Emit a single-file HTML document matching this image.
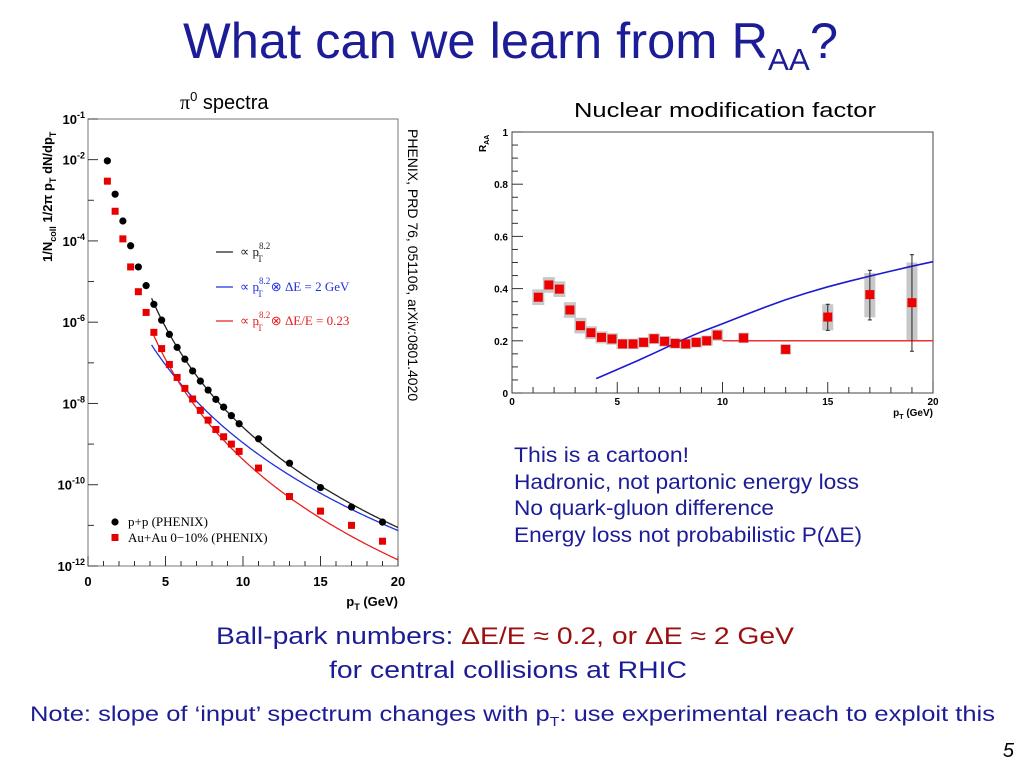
<!DOCTYPE html>
<html><head><meta charset="utf-8"><style>
html,body{margin:0;padding:0;background:#fff;}
svg{display:block;font-family:"Liberation Sans",sans-serif;}
.bt{font-weight:bold;fill:#000;}
.blue{fill:#1c1c96;}
</style></head><body>
<svg id="s" width="1024" height="768" viewBox="0 0 1024 768" xmlns="http://www.w3.org/2000/svg">
<text x="183" y="58" font-size="50" class="blue" textLength="655" lengthAdjust="spacingAndGlyphs">What can we learn from R<tspan font-size="31" dy="12">AA</tspan><tspan dy="-12">?</tspan></text>
<text x="180" y="109" font-size="20" fill="#000"><tspan font-family="Liberation Serif">π</tspan><tspan font-size="13" dy="-8">0</tspan><tspan dy="8"> spectra</tspan></text>
<text x="574" y="117" font-size="20" fill="#000" textLength="302" lengthAdjust="spacingAndGlyphs">Nuclear modification factor</text>
<g id="left"></g>
<g id="right"></g>
<text x="408" y="129" transform="rotate(90 408 129)" font-size="14" fill="#000">PHENIX, PRD 76, 051106, arXiv:0801.4020</text>
<g font-size="21" class="blue">
<text x="514" y="462" textLength="175" lengthAdjust="spacingAndGlyphs">This is a cartoon!</text>
<text x="514" y="489" textLength="345" lengthAdjust="spacingAndGlyphs">Hadronic, not partonic energy loss</text>
<text x="514" y="515" textLength="260" lengthAdjust="spacingAndGlyphs">No quark-gluon difference</text>
<text x="514" y="542" textLength="348" lengthAdjust="spacingAndGlyphs">Energy loss not probabilistic P(ΔE)</text>
</g>
<text x="216" y="644" font-size="24" class="blue" textLength="578" lengthAdjust="spacingAndGlyphs">Ball-park numbers: <tspan fill="#9a1010">ΔE/E ≈ 0.2, or ΔE ≈ 2 GeV</tspan></text>
<text x="329" y="678" font-size="24" class="blue" textLength="358" lengthAdjust="spacingAndGlyphs">for central collisions at RHIC</text>
<text x="30" y="721" font-size="21" class="blue" textLength="965" lengthAdjust="spacingAndGlyphs">Note: slope of ‘input’ spectrum changes with p<tspan font-size="13" dy="5">T</tspan><tspan dy="-5">: use experimental reach to exploit this</tspan></text>
<text x="1014" y="757" text-anchor="end" font-size="20" font-style="italic" fill="#000">5</text>
</svg>
<script>
// ---- Left chart data (log10 of yield) ----
const ppPt = [1.25,1.75,2.25,2.75,3.25,3.75,4.25,4.75,5.25,5.75,6.25,6.75,7.25,7.75,8.25,8.75,9.25,9.75,11,13,15,17,19];
const ppLog = [-2.03,-2.85,-3.51,-4.12,-4.64,-5.1,-5.56,-5.95,-6.3,-6.62,-6.91,-7.2,-7.45,-7.67,-7.9,-8.09,-8.3,-8.5,-8.87,-9.47,-10.07,-10.55,-10.92];
const auPt = [1.25,1.75,2.25,2.75,3.25,3.75,4.25,4.75,5.25,5.75,6.25,6.75,7.25,7.75,8.25,8.75,9.25,9.75,11,13,15,17,19];
const auLog = [-2.53,-3.27,-3.95,-4.64,-5.25,-5.76,-6.25,-6.65,-7.04,-7.36,-7.63,-7.89,-8.17,-8.41,-8.64,-8.82,-9.0,-9.18,-9.59,-10.29,-10.65,-11.0,-11.39];
const powerN = [8.2];
const normLog = [-0.385];
const blueShift = [2];
const blueNormLog = [-0.12];
const eLossFrac = [0.2];
const yDecades = [-1,-2,-4,-6,-8,-10,-12];
const xTicksL = [0,5,10,15,20];
// ---- Right chart data ----
const raaPt = [1.25,1.75,2.25,2.75,3.25,3.75,4.25,4.75,5.25,5.75,6.25,6.75,7.25,7.75,8.25,8.75,9.25,9.75,11,13,15,17,19];
const raaVal = [0.367,0.414,0.398,0.318,0.258,0.231,0.213,0.207,0.188,0.188,0.194,0.208,0.198,0.19,0.188,0.194,0.2,0.222,0.211,0.167,0.291,0.377,0.346];
const sysLo = [0.337,0.384,0.368,0.288,0.228,0.206,0.19,0.185,0.168,0.168,0.174,0.188,0.178,0.17,0.168,0.174,0.18,0.2,0.191,0.147,0.24,0.29,0.2];
const sysHi = [0.397,0.444,0.428,0.348,0.288,0.256,0.236,0.229,0.208,0.208,0.214,0.228,0.218,0.21,0.208,0.214,0.22,0.244,0.231,0.187,0.34,0.46,0.5];
const errPt = [15,17,19];
const errLo = [0.24,0.28,0.16];
const errHi = [0.34,0.47,0.53];
const bluePt = [4,5,6,7,8,9,10,11,12,13,14,15,16,17,18,19,20];
const blueRaa = [0.055,0.09,0.125,0.162,0.2,0.235,0.265,0.297,0.328,0.357,0.383,0.407,0.428,0.448,0.467,0.486,0.503];
const flatRaa = [0.2];
const yTicksR = [0,0.2,0.4,0.6,0.8,1];
const yTickLabR = ["0","0.2","0.4","0.6","0.8","1"];
const xTicksR = [0,5,10,15,20];

const NS="http://www.w3.org/2000/svg";
function mk(parent,tag,attrs,text){const e=document.createElementNS(NS,tag);for(const k in attrs)e.setAttribute(k,attrs[k]);if(text!==undefined)e.textContent=text;parent.appendChild(e);return e;}

// ---------- LEFT ----------
const L=document.getElementById('left');
const lx0=88,lx1=398,ly0=119,ly1=566;
const lx=v=>lx0+(lx1-lx0)*v/20;
const ly=lg=>ly0+(ly1-ly0)*(-1-lg)/11;
let fr=mk(L,'rect',{x:lx0,y:ly0,width:lx1-lx0,height:ly1-ly0,fill:'none',stroke:'#777','stroke-width':1});


for(let d=-12;d<=-1;d++){const y=ly(d);const len=(d%2===0||d===-1)?10:6;mk(L,'line',{x1:lx0,x2:lx0+len,y1:y,y2:y,stroke:'#333','stroke-width':1});}
for(let v=0;v<=20;v+=1){const len=v%5===0?10:5;mk(L,'line',{x1:lx(v),x2:lx(v),y1:ly1,y2:ly1-len,stroke:'#333','stroke-width':1});}
yDecades.forEach(d=>{const t=mk(L,'text',{x:lx0-3,y:ly(d)+5,'text-anchor':'end','font-size':13,class:'bt'});


mk(t,'tspan',{},'10');mk(t,'tspan',{'font-size':9,dy:-6},String(d));});
xTicksL.forEach(v=>{const t=mk(L,'text',{x:lx(v),y:ly1+20,'text-anchor':'middle','font-size':13,class:'bt'},String(v));

});
let xt=mk(L,'text',{x:398,y:606,'text-anchor':'end','font-size':13,class:'bt'});


mk(xt,'tspan',{},'p');mk(xt,'tspan',{'font-size':9,dy:4},'T');mk(xt,'tspan',{dy:-4},' (GeV)');
let yt=mk(L,'text',{x:52,y:262,transform:'rotate(-90 52 262)','font-size':13,class:'bt'});


mk(yt,'tspan',{},'1/N');mk(yt,'tspan',{'font-size':9,dy:4},'coll');mk(yt,'tspan',{dy:-4},' 1/2π p');mk(yt,'tspan',{'font-size':9,dy:4},'T');mk(yt,'tspan',{dy:-4},' dN/dp');mk(yt,'tspan',{'font-size':9,dy:4},'T');
function curve(fn,col,name){let d='';for(let p=4.1;p<=20.001;p+=0.1){d+=(d?'L':'M')+lx(p).toFixed(1)+' '+ly(fn(p)).toFixed(1);}
const e=mk(L,'path',{d:d,fill:'none',stroke:col,'stroke-width':1.3});

}
curve(p=>normLog[0]-powerN[0]*Math.log10(p),'#222','pp-power-law-curve');
curve(p=>blueNormLog[0]-powerN[0]*Math.log10(p+blueShift[0]),'#2030e0','delta-e-2gev-curve');
curve(p=>normLog[0]-powerN[0]*Math.log10(p/(1-eLossFrac[0])),'#e82020','delta-e-frac-curve');
ppPt.forEach((p,i)=>{const c=mk(L,'circle',{cx:lx(p),cy:ly(ppLog[i]),r:3.6,fill:'#000'});

});
auPt.forEach((p,i)=>{const c=mk(L,'rect',{x:lx(p)-3.5,y:ly(auLog[i])-3.5,width:7,height:7,fill:'#e80000'});

});
const lg=[[252,'#222',''],[287,'#2030e0','⊗ ΔE = 2 GeV'],[321,'#e82020','⊗ ΔE/E = 0.23']];
lg.forEach((r)=>{mk(L,'line',{x1:216,x2:233,y1:r[0],y2:r[0],stroke:r[1],'stroke-width':1.3});
const t=mk(L,'text',{x:240,y:r[0]+4,'font-size':13,'font-family':'Liberation Serif',fill:r[1]});


mk(t,'tspan',{},'∝ p');mk(t,'tspan',{'font-size':9,dy:-7},'8.2');mk(t,'tspan',{'font-size':9,dx:-13,dy:13},'T');mk(t,'tspan',{dx:8,dy:-6},r[2]);});
mk(L,'circle',{cx:115,cy:522,r:3.6,fill:'#000'});
let l1t=mk(L,'text',{x:128,y:526,'font-size':13,'font-family':'Liberation Serif',fill:'#000'},'p+p (PHENIX)');


mk(L,'rect',{x:111.5,y:534,width:7,height:7,fill:'#e80000'});
let l2t=mk(L,'text',{x:128,y:542,'font-size':13,'font-family':'Liberation Serif',fill:'#000'},'Au+Au 0−10% (PHENIX)');



// ---------- RIGHT ----------
const R=document.getElementById('right');
const rx0=512,rx1=933,ry0=132,ry1=393;
const rx=v=>rx0+(rx1-rx0)*v/20;
const ry=v=>ry1-(ry1-ry0)*v;
let rf=mk(R,'rect',{x:rx0,y:ry0,width:rx1-rx0,height:ry1-ry0,fill:'none',stroke:'#444','stroke-width':1});


for(let k=0;k<=20;k++){const v=k*0.05;const len=k%4===0?11:6;mk(R,'line',{x1:rx0,x2:rx0+len,y1:ry(v),y2:ry(v),stroke:'#333'});}
for(let v=0;v<=20;v++){const len=v%5===0?11:6;mk(R,'line',{x1:rx(v),x2:rx(v),y1:ry1,y2:ry1-len,stroke:'#333'});}
yTicksR.forEach((v,i)=>{const t=mk(R,'text',{x:rx0-4,y:ry(v)+4,'text-anchor':'end','font-size':10,class:'bt'},yTickLabR[i]);

});
xTicksR.forEach(v=>{const t=mk(R,'text',{x:rx(v),y:ry1+12,'text-anchor':'middle','font-size':10,class:'bt'},String(v));

});
let rxt=mk(R,'text',{x:933,y:416,'text-anchor':'end','font-size':10,class:'bt'});


mk(rxt,'tspan',{},'p');mk(rxt,'tspan',{'font-size':7,dy:3},'T');mk(rxt,'tspan',{dy:-3},' (GeV)');
let ryt=mk(R,'text',{x:486,y:152,transform:'rotate(-90 486 152)','font-size':10,class:'bt'});


mk(ryt,'tspan',{},'R');mk(ryt,'tspan',{'font-size':7,dy:3},'AA');
raaPt.forEach((p,i)=>{const w=(p>10.5)?9:10;const b=mk(R,'rect',{x:rx(p)-w/2-1,y:ry(sysHi[i]),width:w+2,height:ry(sysLo[i])-ry(sysHi[i]),fill:'#c8c8c8'});

});
let fl=mk(R,'line',{x1:rx(10),x2:rx(20),y1:ry(flatRaa[0]),y2:ry(flatRaa[0]),stroke:'#f03030','stroke-width':1.5});


let bd='';bluePt.forEach((p,i)=>{bd+=(i?'L':'M')+rx(p).toFixed(1)+' '+ry(blueRaa[i]).toFixed(1);});
let bp=mk(R,'path',{d:bd,fill:'none',stroke:'#1a1ad0','stroke-width':1.6});


errPt.forEach((p,i)=>{const e=mk(R,'line',{x1:rx(p),x2:rx(p),y1:ry(errHi[i]),y2:ry(errLo[i]),stroke:'#222','stroke-width':1});


mk(R,'line',{x1:rx(p)-2,x2:rx(p)+2,y1:ry(errHi[i]),y2:ry(errHi[i]),stroke:'#222'});
mk(R,'line',{x1:rx(p)-2,x2:rx(p)+2,y1:ry(errLo[i]),y2:ry(errLo[i]),stroke:'#222'});});
raaPt.forEach((p,i)=>{const c=mk(R,'rect',{x:rx(p)-4.5,y:ry(raaVal[i])-4.5,width:9,height:9,fill:'#ee0000'});

});
</script>
</body></html>
